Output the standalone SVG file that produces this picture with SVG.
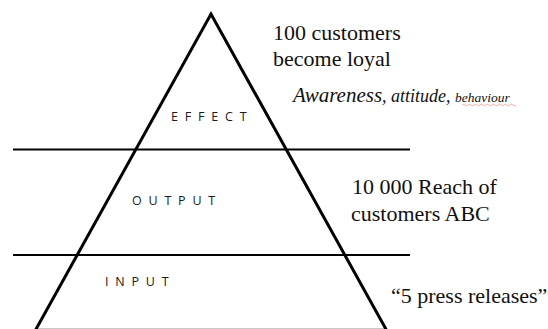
<svg xmlns="http://www.w3.org/2000/svg" width="548" height="329" viewBox="0 0 548 329">
<style>
.serif{font-family:'Liberation Serif','Times New Roman','DejaVu Serif',serif;fill:#111;}
.lbl{font-family:'Open Sans','Noto Sans',sans-serif;font-size:12.5px;letter-spacing:6.8px;fill:#1a1a1a;}
.edge{fill:none;stroke:#000;}
</style>
<rect width="548" height="329" fill="#fff"/>
<g id="connectors">
<line class="edge" x1="13" y1="149.5" x2="410" y2="149.5" stroke-width="2"/>
<line class="edge" x1="13" y1="255" x2="410" y2="255" stroke-width="2"/>
<line x1="38" y1="328.5" x2="385" y2="328.5" stroke="#c8c8c8" stroke-width="1"/>
<polyline class="edge" points="35,331 211,14 387,331" stroke-width="3" stroke-linejoin="miter" stroke-miterlimit="10"/>
</g>
<g id="effect">
<text class="lbl" x="171" y="121">EFFECT</text>
</g>
<g id="output">
<text class="lbl" x="132" y="205">OUTPUT</text>
</g>
<g id="input">
<text class="lbl" x="105" y="286">INPUT</text>
</g>
<g id="effect-note">
<text class="serif" font-family="Liberation Serif, serif" x="273" y="40" font-size="22">100 customers</text>
<text class="serif" font-family="Liberation Serif, serif" x="273" y="66" font-size="22">become loyal</text>
<text class="serif" font-family="Liberation Serif, serif" x="293" y="102" font-style="italic"><tspan font-size="21">Awareness</tspan><tspan font-size="18">, attitude, </tspan><tspan font-size="13.5">behaviour</tspan></text>
<path d="M462,105 q1.5,-1.5 3,0 t3,0 t3,0 t3,0 t3,0 t3,0 t3,0 t3,0 t3,0 t3,0 t3,0 t3,0 t3,0 t3,0 t3,0 t3,0 t3,0 t3,0" fill="none" stroke="#e89a9a" stroke-width="0.8"/>
</g>
<g id="output-note">
<text class="serif" font-family="Liberation Serif, serif" x="352" y="194" font-size="22">10 000 Reach of</text>
<text class="serif" font-family="Liberation Serif, serif" x="351" y="221" font-size="22">customers ABC</text>
</g>
<g id="input-note">
<text class="serif" font-family="Liberation Serif, serif" x="391" y="303" font-size="22">“5 press releases”</text>
</g>
</svg>
